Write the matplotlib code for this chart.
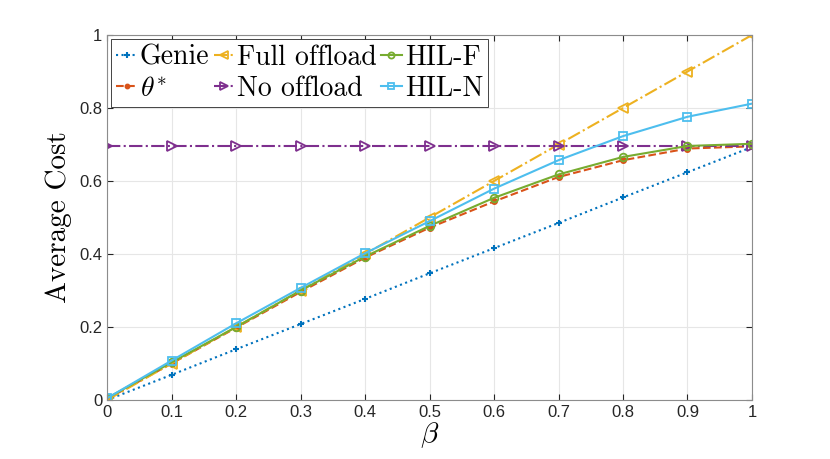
import numpy as np
import matplotlib
matplotlib.use("Agg")
import matplotlib.pyplot as plt

plt.rcParams['mathtext.fontset'] = 'cm'
plt.rcParams['font.family'] = ['Liberation Sans', 'DejaVu Sans']

# data
beta = [0, 0.1, 0.2, 0.3, 0.4, 0.5, 0.6, 0.7, 0.8, 0.9, 1.0]
genie = [0, 0.069, 0.139, 0.208, 0.277, 0.347, 0.416, 0.485, 0.555, 0.624, 0.693]
theta_star = [0.003, 0.100, 0.198, 0.296, 0.390, 0.472, 0.544, 0.611, 0.657, 0.689, 0.695]
full_offload = [0, 0.1, 0.2, 0.3, 0.4, 0.5, 0.6, 0.7, 0.8, 0.9, 1.0]
no_offload = [0.695] * 11
hil_f = [0.005, 0.103, 0.200, 0.300, 0.393, 0.477, 0.554, 0.618, 0.666, 0.696, 0.702]
hil_n = [0.005, 0.108, 0.210, 0.307, 0.402, 0.490, 0.579, 0.657, 0.723, 0.776, 0.812]

colors = ['#0072BD', '#D95319', '#EDB120', '#7E2F8E', '#77AC30', '#4DBEEE']

fig = plt.figure(figsize=(8.3, 4.59), dpi=100)
ax = fig.add_axes([0.129, 0.1285, 0.777, 0.7952])

ax.plot(beta, genie, ':', color=colors[0], marker='+', ms=5, mew=1.5, lw=1.5, label='Genie')
ax.plot(beta, theta_star, '--', color=colors[1], marker='.', ms=8, lw=1.5, label=r'$\theta^{*}$')
ax.plot(beta, full_offload, '-.', color=colors[2], marker='<', ms=7, mfc='none', mew=1.3, lw=1.5, label='Full offload')
ax.plot(beta, no_offload, '-.', color=colors[3], marker='>', ms=7, mfc='none', mew=1.3, lw=1.5, label='No offload')
ax.plot(beta, hil_f, '-', color=colors[4], marker='o', ms=5.5, mfc='none', mew=1.3, lw=1.5, label='HIL-F')
ax.plot(beta, hil_n, '-', color=colors[5], marker='s', ms=5.5, mfc='none', mew=1.3, lw=1.5, label='HIL-N')

ax.set_xlim(0, 1)
ax.set_ylim(0, 1)
ax.set_xticks(np.arange(0, 1.01, 0.1))
ax.set_xticklabels(['0', '0.1', '0.2', '0.3', '0.4', '0.5', '0.6', '0.7', '0.8', '0.9', '1'])
ax.set_yticks(np.arange(0, 1.01, 0.2))
ax.set_yticklabels(['0', '0.2', '0.4', '0.6', '0.8', '1'])
ax.tick_params(direction='in', top=True, right=True, labelsize=12, length=4, color='#262626', labelcolor='#262626')
ax.grid(True, color='#e6e6e6', lw=0.8)
for s in ax.spines.values():
    s.set_color('#8c8c8c')
    s.set_linewidth(0.8)

ax.set_xlabel(r'$\beta$', fontsize=21, labelpad=0)
ax.set_ylabel('Average Cost', fontsize=21, family='cmr10', labelpad=5)

leg = ax.legend(loc='upper left', ncol=3, prop={'family': 'cmr10', 'size': 20},
                handlelength=0.75, handletextpad=0.1, markerscale=0.8,
                columnspacing=0.15, labelspacing=0.18, borderpad=0.18, borderaxespad=0.15,
                fancybox=False, framealpha=1)
leg.get_frame().set_edgecolor('#262626')
leg.get_frame().set_linewidth(0.6)

fig.savefig('out.png', dpi=100)
